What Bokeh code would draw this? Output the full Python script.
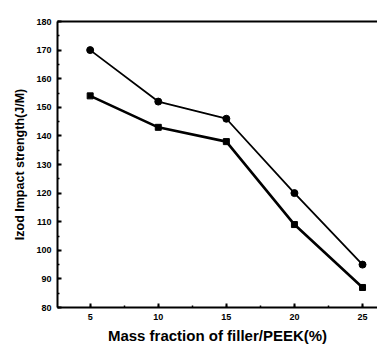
from bokeh.plotting import figure
from bokeh.models import Range1d, SingleIntervalTicker, LinearAxis, FixedTicker
from bokeh.embed import file_html
from bokeh.resources import INLINE

x_vals = [5, 10, 15, 20, 25]
circle_series = [170, 152, 146, 120, 95]
square_series = [154, 143, 138, 109, 87]

p = figure(width=377, height=346, output_backend="svg", toolbar_location=None,
           x_range=Range1d(2.6, 26.1), y_range=Range1d(80, 180),
           min_border_left=57, min_border_right=0, min_border_top=21, min_border_bottom=36)
p.outline_line_color = None
p.grid.visible = False
p.background_fill_color = "white"

font = "Liberation Sans"

p.xaxis.ticker = SingleIntervalTicker(interval=5, num_minor_ticks=2)
p.yaxis.ticker = SingleIntervalTicker(interval=10, num_minor_ticks=2)

for ax in (p.xaxis[0], p.yaxis[0]):
    ax.axis_line_width = 2
    ax.axis_line_color = "black"
    ax.major_tick_in = 4
    ax.major_tick_out = 0
    ax.minor_tick_in = 2
    ax.minor_tick_out = 0
    ax.major_tick_line_width = 2
    ax.minor_tick_line_width = 1.5
    ax.major_label_text_font = font
    ax.major_label_text_font_style = "bold"
    ax.major_label_text_color = "black"
    ax.axis_label_text_font = font
    ax.axis_label_text_font_style = "bold"
    ax.axis_label_text_color = "black"

p.xaxis.major_label_text_font_size = "9px"
p.yaxis.major_label_text_font_size = "9px"
p.xaxis.major_label_standoff = 6
p.yaxis.major_label_standoff = 6
p.xaxis.axis_label = "Mass fraction of filler/PEEK(%)"
p.xaxis.axis_label_text_font_size = "15px"
p.xaxis.axis_label_standoff = 4
p.yaxis.axis_label = "Izod Impact strength(J/M)"
p.yaxis.axis_label_text_font_size = "12.5px"
p.yaxis.axis_label_standoff = 6

top = LinearAxis(ticker=FixedTicker(ticks=[]), major_tick_line_color=None,
                 minor_tick_line_color=None, axis_line_width=2)
p.add_layout(top, "above")

p.line(x_vals, circle_series, line_color="black", line_width=1.8)
p.scatter(x_vals, circle_series, marker="circle", size=7, color="black")
p.line(x_vals, square_series, line_color="black", line_width=2.6)
p.scatter(x_vals, square_series, marker="square", size=6, color="black")

open("out.html", "w").write(file_html(p, INLINE))
